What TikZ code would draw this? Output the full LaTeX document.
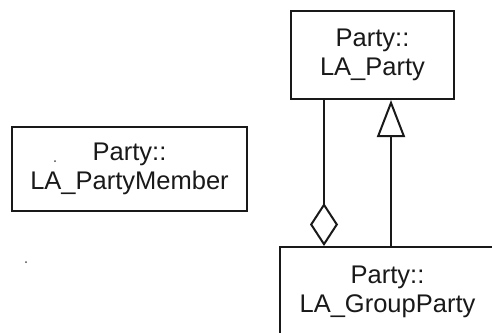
\documentclass[tikz,border=0pt]{standalone}
\usepackage{fontspec}
\setmainfont{Liberation Sans}
\usetikzlibrary{arrows.meta}
\begin{document}
\begin{tikzpicture}[x=1pt,y=-1pt,
  cls/.style={draw=black!90, line width=2pt, fill=white, inner sep=0pt,
    align=center, font=\fontsize{25.5}{29}\selectfont, text=black!90},
  link/.style={draw=black!90, line width=2pt},
  speck/.style={fill=black!70, draw=none, circle, inner sep=0pt, minimum size=2pt}]
\useasboundingbox (0,0) rectangle (492,332);
\clip (0,0) rectangle (492,332);
\node[cls, minimum width=163pt, minimum height=88pt] (party) at (372.5,55) {Party::\\LA\_Party};
\node[cls, minimum width=235pt, minimum height=84pt] (member) at (129.5,169) {Party::\\LA\_PartyMember};
\node[cls, minimum width=215pt, minimum height=90pt] (group) at (387.5,292) {Party::\\LA\_GroupParty};
\coordinate (aggx) at (324,0);
\coordinate (genx) at (391,0);
\draw[link, -{Diamond[open, length=43pt, width=28pt]}]
  (party.south -| aggx) -- (group.north -| aggx);
\draw[link, -{Triangle[open, length=37pt, width=28pt]}]
  (group.north -| genx) -- (party.south -| genx);
\node[speck] (dotA) at (55,161) {};
\node[speck] (dotB) at (26,262) {};
\end{tikzpicture}
\end{document}
